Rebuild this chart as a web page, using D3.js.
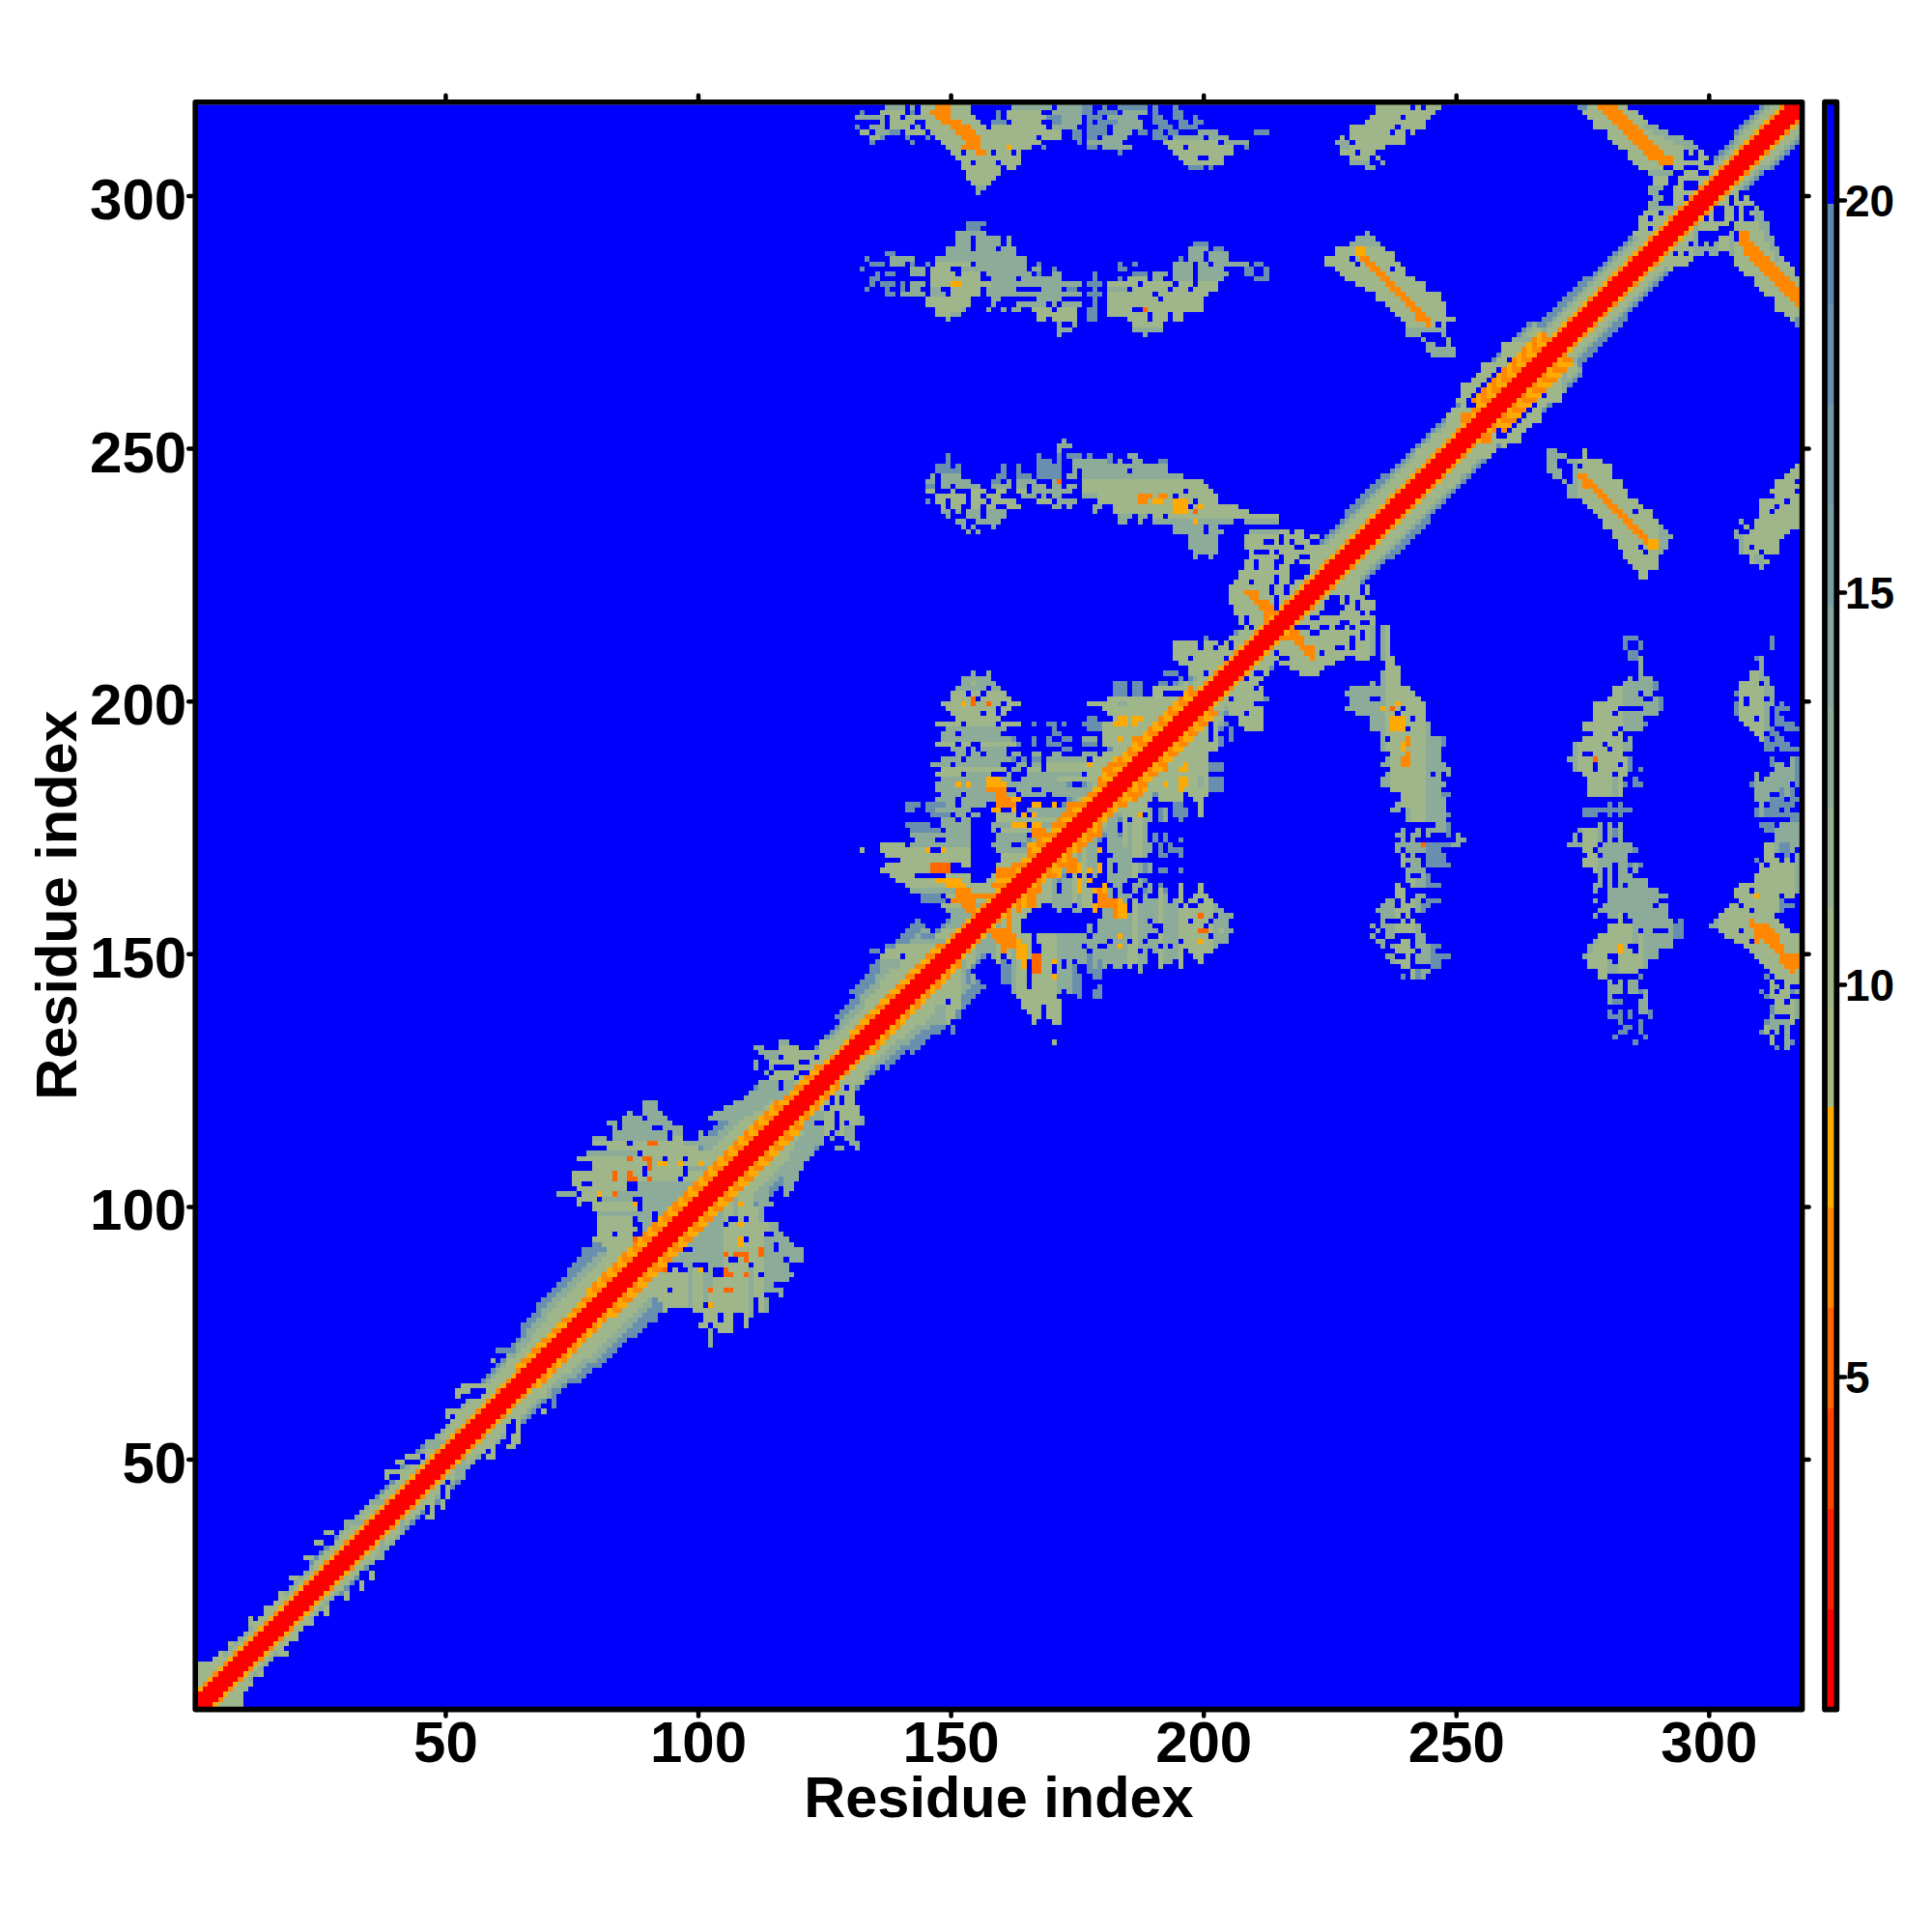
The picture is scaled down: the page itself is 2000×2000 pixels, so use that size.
<!DOCTYPE html>
<html><head><meta charset="utf-8">
<script src="https://cdnjs.cloudflare.com/ajax/libs/d3/7.8.5/d3.min.js"></script>
<style>html,body{margin:0;background:#fff}text{font-family:"Liberation Sans",Arial,sans-serif;font-weight:bold;fill:#000}</style>
</head><body><svg id="c" width="2000" height="2000"></svg>
<script>
const axisTicks=[50,100,150,200,250,300];
const barTicks=[5,10,15,20];
const palette=["#ff0000","#ff2200","#ff4400","#ff6600","#ff8800","#ffaa00","#a5bb82","#9eb68a","#96b092","#8dab99","#84a5a0","#7b9ea6","#7297ab","#698fae","#5f88b0","#0000ff"];
const levelValues={s:17.5,m:13.5,g:10.5,l:9.2,y:7.8,o:6.5,t:5.2,u:4,".":21};
// diagonal band, by residue at the middle of a pair
const bandStart=[1,8,14,20,26,32,38,44,50,54,60,66,70,74,80,92,100,118,126,132,136,140,150,165,185,200,210,225,232,240,250,256,270,280,296,308];
const orangeDepth=[3,3,3,3,3,3,3,3,3,3,3,4,4,4,5,5,5,4,3,4,4,4,3,4,5,3,3,3,3,3,3,6,3,3,3,3];
const sageDepth=[5,4,5,4,5,5,5,5,5,6,6,6,7,8,8,8,8,7,6,6,7,8,5,5,7,5,4,6,6,6,6,8,5,5,4,5];
const midDepth=[6,5,5,5,5,6,5,6,6,7,7,8,9,10,10,10,10,8,7,8,9,10,6,6,8,6,5,7,7,7,7,9,6,6,5,6];
const steelDepth=[6,5,5,5,6,6,6,7,6,7,8,9,11,12,13,12,12,10,8,10,12,13,7,7,9,7,6,8,9,8,8,10,8,7,6,7];
// off-diagonal contacts: residue offset from i0, row residue, then runs
const patchStart=[0,69,69,126,130,130,142,142,222,222,222,222];
const patchRows=[
[ // thin band fringe
"71: 60-63s","69: 59g 62g","64: 53-60g","63: 52-54g 55-57. 58-60g","62: 52g 54-56. 58g","59: 50-54g","58: 50g 51. 52-54g","53: 46-49m","52: 46-50m","50: 42-46g 45.","49: 40-41g 42-44. 45-47g","47: 38-41g","46: 38g 39-40. 41g","41: 35-38m","37: 30-34m","35: 26-27g","33: 24-25g 26-27.","30: 22-23g","26: 19-20g","23: 17g","20: 14g","18: 11g","17: 11g","13: 7g","11: 5g","10: 4g","9: 1-3g","8: 1-4g","7: 1-4g","6: 1-4g","5: 1-3g 3t"
],[ // helical bundle near 75-118
"120: 20-22m","119: 20-22m","118: 17m 20-23m","117: 16-24m 20.","116: 13-14m 16-25m","115: 14m 16-21m 24-27m","114: 14-24m 26-27m 31m","113: 10-12m 14-24m 26-27g 31-33m","112: 10-27g 17. 21-22t 28-33m","111: 13-30g","110: 9-18m 19. 20-33g","109: 7-33g 17t 20-21t 24. 28.","108: 10-33g 21t 23-24y 27y 31y","107: 10-27g 21t 20. 28. 29-33m","106: 6-33g 14t 17t 20. 28.","105: 6-33g 14t 17-18t 21t 27. 31-32t","104: 6-7g 10-16g 19-33m","103: 7-16g 17-18. 19-33m","102: 3-6m 7. 8-10g 11y 12-13g 14t 15-33m","101: 7-10g 11. 12-17m 19. 20-32m","100: 7g 10-17g 18y 19. 20-31m","99: 10-18g 19. 20-30m 27t","98: 11-21m 22. 23-29m","97: 11-17g 18. 19-21m 22. 23. 24-28m","96: 11-17g 18-19. 20-27m","95: 11-18g 19. 20-26m 24y","94: 11-13g 14. 15-17g 18-19. 20-25m","93: 10-17g 18-20t 21. 22-24g","92: 12-23g","91: 8-12s 13-22g"
],[ // ring near 118-132
"132: 47-48m 55-56g 59-61g","131: 42-43m 47-50g 55-60g","130: 43-46m 47-53g 54-58g","129: 44-46m 48-53g 54. 55-57g","128: 42m 45-53g 51-52. 54-56g","127: 42m 45m 46-47. 48-49. 50-55g","126: 44m 46-50g 51-52. 53-56g","125: 45-49g 50. 53-55g 52.","124: 43-49m 47. 52-54g","123: 43-46m 48-53m 47.","122: 41-53m","121: 40-52m","120: 38-51m 45-47g","119: 36-50m 44-47g","118: 34-47m 42-46g","117: 33-45m 40-45g"
],[ // central bundle 130-205
"205: 28m 31m","204: 26-31m","203: 26-32m 28g 56-58s 60-61s 65-66s","202: 25-33m 31. 56-58s 60-61s 64-71g","201: 24-34g 27. 30. 56-58s 60-61s 64-72g 66-69.","200: 24-35g 29. 28t 55-73g","199: 22-37g 26y 28t 31t 34. 51-73g 57-58m","198: 23-35g 33. 54-72g","197: 24-34g 30. 33. 55-70g 66-67.","196: 25-33g 51-52s 56-69g 57-58y 60-61y 65-69o","195: 21-37g 26. 33. 40s 43-44s 46s 50-53s 54-68g 56-58y 60y 66-68o","194: 23-34m 44s 51-53s 54-67g 64-67o","193: 22-33m 25. 44-45s 54-66g 62-65o","192: 22-35m 36s 40s 43s 46-47s 50-52m 54-65g 57y 60-64o","191: 21-36g 25. 28-29. 37s 40s 43-45s 50-52s 54-64g 60-64o","190: 24-26m 28m 30-34m 46-47s 56-63g","189: 25-26m 28-29m 31-34m 36-37m 40-41m 44-45m 50-52m 54-62g","188: 22-35m 26. 36s 38s 40-41s 43-50m 52-61g 56-57y","187: 20-33m 24. 37-38m 40-41m 43-60g 51y 55-60o","186: 22-34g 36-37m 39-59g 42. 54-59o","185: 21-25g 27-31m 34. 35m 39-49m 50. 51-58g 54-58y","184: 22-44m 31-33y 36. 37. 45-57g 53-57o","183: 21-46m 25y 27y 31-34y 47s 52-56g 53-56o","182: 21-51m 31-34o 35-36. 40-41. 53-55o","181: 22-50m 33-34o 26. 37. 43. 51-54g","180: 21-24m 26-32m 33-35o 36-37y 42. 51-53o","179: 15-17s 19-22s 23-30m 25. 33-36o 40-41y 44y 47-51o","178: 15-16s 19-20s 21-27m 32-33y 36y 37. 39-46m 47-50o","177: 20-23s 24. 25-26m 28-29m 33-36g 38y 40y 41-44m 46-49o","176: 22-24m 26-27m 33-44g 45-48o","175: 15-19s 22-27m 32-36m 36-38y 40-41y 42m 44-47o","174: 16-21s 23-27m 32m 34-40g 40-42o 44-46y","173: 16-27m 33-38m 40-43o 44-45o","172: 17-20m 23-27m 33-38m 41-44o","171: 10-14g 16-27m 32-35m 39-43y 42-44o","170: 6g 10-18g 19y 22y 23-27g 33-38m 39-43o","169: 11-12g 13-27g 34-39g 39-42o","168: 14-27g 34-38g 38-41o","167: 11-19g 20-23t 26-27g 33-37g 36-40o","166: 10-19g 20-23t 33-39o","165: 12-16g 17. 23-27g 32-35g 33-38o","164: 13-21g 21-25y 26-27g 31-35g 33-37y","163: 15-22g 23-26y 27-36g 32-33o","162: 16-24m 25-27o 28-35g","161: 18-21s 23-27g 25-28o 29-34o","160: 18-22s 24-28o 30-33g","159: 22-25g 26-28o 29-32m","158: 23-26m 27-29o 30-31g","157: 24-27m 28-30o","156: 25-27m 28-29o","155: 24-27m","154: 22-26g","153: 18-20s 21-26g","152: 16-25m","151: 11-12s 13-24g","150: 8-9s 11-22g","149: 10-21g 14.","148: 10-12m 15-20g","147: 10-13m 15-19g"
],[ // top strip
"317: 7-10m 12m 14-23g 17-19o 32-36m 37-39m 41-45m 46-47s 50s 53s 54-58s 60s 64s","316: 2s 6-10g 12s 14-23g 16-19o 29s 31-37g 40-45m 46-47s 49-52s 54-58m 60s 64-65s","315: 1-6m 8-9g 11-14g 15-24g 17-19o 29s 31-38g 39-41s 42-45m 47-49s 51-56m 60-61s 64-65s 68s","314: 6m 8-12g 15-25g 18-21o 28-30s 32-37g 40-41s 42-45m 47s 49-52s 53-57m 60-62s 65-66s 68-69s","313: 1s 4-6m 8-11g 13m 15-26g 20-23o 28-38g 40-44m 47-50s 52-57m 61-63s 65-68s","312: 2-3g 5-7m 8-9s 11-14g 16-29g 21-24o 30-41g 44-45s 47-50s 52-55m 57-58s 60-61s 63-64s 69-72m 80-82s","311: 4-5g 6s 11s 15s 17-29g 22-25o 30-41g 37. 44-45s 47-48s 50-54m 60-62s 64-69m 71-74m","310: 4s 12s 18-29g 23-25o 30-37g 45s 47-53m 62-72g 74-78m","309: 19-35g 22-25o 31y 38s 47-48s 50-55m 63-65g 67-75g 78s","308: 20-33g 22. 25-26o 28. 32. 53s 64-70g 71-75g","307: 21-33g 65-73g 69-70.","306: 22-33g 24. 29. 66-73g","305: 22-32g 30. 67-69s 71s","304: 23-29g","303: 23-28g","302: 24-27g","301: 25-26m","300: 25m"
],[ // second strip
"294: 23-24s 25-26s","293: 23-25s","292: 21-26m","291: 21-23m 25-29m 31m","290: 21-23m 25-29m 31m 68-70s","289: 19-23m 25-28m 30-32m 67-70m 72-73s","288: 7-8s 19-24m 25-32m 67-74m 70.","287: 3s 8-12m 17-34m 65s 67-74m 70.","286: 4-6s 8-10m 11. 12s 15s 17-23g 25-34m 37s 53s 56s 64-67m 69-70m 72-78m 80-81s","285: 2s 12-14m 16-19g 22-32m 33-34m 36-37m 40s 53-54s 64-67m 69-73m 78-79s 82s","284: 5s 7-8s 12-14m 16-20g 22-25g 27-35m 37s 40-41m 48s 56-58s 60-62m 64-67m 69-74m 78-79s 82s","283: 4-5s 16-25g 28-32m 34-41m 48s 53s 55-58g 60-61m 64-67m 69-73m 80-82s","282: 4s 6-8s 10s 12-14m 16-27g 20-21y 28-40m 41-45m 47-49s 51-59g 60-72g 57. 64. 68.","281: 3s 7s 10s 12-13m 16-17m 20-25g 27-32m 38-41m 43-44s 48s 51-54m 56-72g 63. 67.","280: 7-8s 10-14m 16-18m 20-25g 27-29m 30-40m 41-45m 47-49s 51-70g 60.","279: 15-23g 28-29m 37-41m 48s 51-60g 62-69g","278: 15-23g 28m 33-38m 40m 42-45m 48s 51-69g","277: 17-21g 22m 27m 30m 32-33m 36-39g 41-44g 47-48s 51-55g 57. 58t 59-69g","276: 17-19g 20-21m 37-44g 47-48s 51-55g 55-58g 60-62g 64-65g","275: 19m 37-38g 40-44g 47-48s 55-58g 60-62g 64-65g","274: 41m 44m 56-61g","273: 41-43m 56-61m","272: 41m 58m"
],[ // middle strip
"251: 30m","250: 29-31m","249: 29m","248: 7s 25s 29s 31-33s 35s 39s 43-44m","247: 7s 25-27s 29s 32-38m 39s 41m 44-45m 49-50s","246: 5-7s 9s 18s 21s 25-29s 32-43m 44-50m","245: 5-9s 18s 21s 25-29s 32-42m 44-50m 33.","244: 4-9m 17-18s 21-23s 25-29s 31-32m 34-52m 53m 5.","243: 3-11m 5. 16-17s 19-29m 20. 25-27. 29t 34-57g","242: 3-4s 6-7m 9-13m 16-19m 21-22m 24-26m 28-29m 31-32m 34-38g 44-46o 39-58g","241: 3-4g 8g 12-14g 17-18g 21-22g 24-28m 29-31m 34-38g 44-46o 39-59g 54.","240: 5-10g 12-13g 15-17g 22-24m 26m 28-29m 34-36m 37-41g 42-60g 45-47o 49-50o 52.","239: 3s 5-6g 8-10g 12-14g 16-20g 25-27g 29-32m 37-41g 42-60g 45-46o 48-49y 52-54y 56.","238: 6g 8-9g 12-13g 15-16g 19-21g 28-29m 31m 36-37m 40-64g 52-54y 55. 57y","237: 6-7m 9m 11-13m 15-18m 36m 40-66g 52-54y 56t","236: 7m 11-13m 15-18m 41-43m 45-46m 48-72g 50.","235: 9-10m 13-17m 41-42m 45m 48-63m 56y 66-72m","234: 10m 12m 16m 52-55m 56-57m 59-60m","233: 11m 13m 52-55m 56-57m 59-61m","232: 55-60m","231: 55-60m","230: 55-60m","229: 56-60m","228: 56m 59m"
],[ // bundle near 205-235
"233: 67-72m 73-74g 76-77g","232: 66-72g 73. 74-80g 78.","231: 66-78g 70-71. 73. 75.","230: 66-81g 76-77.","229: 67-82g 68-70. 72. ","228: 67-83g 73. 77-78. ","227: 66-84g 68. 72-73. 76.","226: 66-83g 68. 72. 75-78.","225: 65-82g 75-78. 80.","224: 65-81g 72. 75-77. 79.","223: 64-79g 67. 72. 75.","222: 63-78g 71. 74. 77.","221: 63-77g 66-68o 71. 74.","220: 63-76g 67-68o 72.","219: 63-76g 68-70o 72.","218: 64-75g 69-71o 72.","217: 64-74g 70-71o","216: 65-73g 66. 70-71o","215: 65-72g 66. 70-71o","214: 66-71g 67.","213: 65-70g","212: 58s 63-69g","211: 52-56g 58-60g 62-68g 63.","210: 52-56g 58-67g 60. 63.","209: 52-66g","208: 52-65g 55. 62.","207: 53-64g","206: 54-63g 54.","205: 50-52s 55-62g 58."
],[ // bundle end near 228-250
"317: 12-24g 19. 21.","316: 12-23g","315: 11-22g 17.","314: 10-21g","313: 7-21g 16.","312: 7-19g 15. 18.","311: 5-17g 6.","310: 4-6m 8-17g","309: 5-6m 7-13g","308: 5-11g 8.","307: 7-12g 11.","306: 7-10m 13m","305: 10-11m"
],[ // antiparallel pair top
"317: 52-61g 52-53s 56-59o","316: 53-63g 57-60o","315: 54-64g 58-61o","314: 55-65g 59-62o","313: 55-67g 60-63o 65-67m","312: 58-69g 61-64o 67-69m","311: 58-72g 62-65o 69-72m","310: 59-74g 63-66o 71-74m","309: 60-75g 64-67o 73-75m","308: 62-76g 65-68o 73. 75.","307: 62-72g 66-70o 73. 76-77g","306: 63-75g 68-70o 76g 78. 80-81g","305: 64-73g 69-70. 73. 76-78g","304: 66-71m 71-72. 73-78g 76-77.","303: 67-69g 70-71. 72-80g","302: 67-69g 70-71. 72-80g 73-75.","301: 66-68m 69-70. 71-74g 73-75. 76-78g","300: 66-67m 68. 71-74g 75. 78-79g","299: 67-68m 69-70. 71-76g 73-75.","298: 66-67m 68-70. 71-76g","297: 66-67m 68-71m 72-76g","296: 65-75g 68.","295: 64-74g 66.","294: 64-73g 69y","293: 64-72g 66. 68-69o","292: 63-71g"
],[ // antiparallel pair left
"292: 10m","291: 8-11m","290: 7-12m","289: 4-13g 8-9y","288: 4-15g 8-9y","287: 2-15g 7. 9-10o","286: 2-16g 8. 10-11o","285: 4-17g 15. 11-12o","284: 5-17g 12-13o","283: 6-19g 13-14o","282: 8-21g 14-15o","281: 10-21g 15-16o","280: 12-24g 16-17o","279: 12-24g 17-18o","278: 14-25g 18-19o","277: 15-25g 19-20o","276: 16-26g 20-21o 26.","275: 17-27g 20-22o","274: 18-25g 22o 24.","273: 18-25m","272: 18-20m 22-25m 21-24.","271: 21m 26m","270: 22-23m 26m","269: 22-27m","268: 23-27m"
],[ // helix bubble
"272: 41m","271: 39-45m","270: 37-46g","269: 37-47g","268: 37-48g 40-42o","267: 36-38g 40-49o 38-39.","266: 33-37g 38-39. 39-45g 40-44o","265: 33-35g 36-38. 39-45o","264: 32-35g 35-37. 38-44o","263: 31-33g 34-36. 36-43o","262: 29-32g 33-35. 36-42o","261: 29-31g 32-34. 35-41o","260: 29-30g 31-33. 34-40o","259: 28-29g 30-32. 33-39o","258: 29g 30-31. 32-38o","257: 27-30g 31-37o","256: 26-28g 29-36o","255: 26-28g 29-35o","254: 27-29g 30-34o","253: 26-29g 30-33o","252: 23-24g 26-28g 30-32o","251: 24-25g 27-30g","250: 21g 23-29g","249: 20-21g 24-27g"
]];
const x=d3.scaleLinear().domain([1,318]).range([204.6,1863]);
const y=d3.scaleLinear().domain([1,318]).range([1767,108.3]);
const barY=d3.scaleLinear().domain([5,20]).range([1425,207]);
const color=d3.scaleQuantize().domain([0.75,21.23]).range(palette);

const N=317, M=new Map();
const key=(i,j)=>i*1000+j;
const binOf=d3.bisector(d=>d).right;
for(let j=1;j<=N;j++)for(let i=Math.max(1,j-14);i<j;i++){
  const d=j-i,b=binOf(bandStart,(i+j)/2)-1;
  let v=null;
  if(d<=steelDepth[b])v=levelValues.s;
  if(d<=midDepth[b])v=levelValues.m;
  if(d<=sageDepth[b])v=levelValues.g;
  if(v!==null)M.set(key(i,j),v);
}
patchRows.forEach((rows,p)=>{
  const i0=patchStart[p];
  rows.forEach(line=>{
    const [jt,rest]=line.split(":");const j=+jt;
    rest.trim().split(/\s+/).forEach(tok=>{
      const m=tok.match(/^(\d+)(?:-(\d+))?(.)$/);if(!m)return;
      const a=+m[1],b=m[2]?+m[2]:a,val=levelValues[m[3]];
      for(let k=a;k<=b;k++){const i=i0+k;if(i>=1&&i<j)M.set(key(i,j),val);}
    });
  });
});
for(let j=1;j<=N;j++)for(let i=Math.max(1,j-14);i<=j;i++){
  const d=j-i,b=binOf(bandStart,(i+j)/2)-1;
  if(d<=2)M.set(key(i,j),1.5);
  else if(d<=orangeDepth[b]&&(d===3||orangeDepth[b]>3))M.set(key(i,j),(d===3?(i%2?levelValues.y:levelValues.o):(i%2?levelValues.o:levelValues.y)));
}
const cells=[];
M.forEach((v,k)=>{
  const i=Math.floor(k/1000),j=k%1000;
  if(v>=20||i<1||j>N)return;
  cells.push({i,j,v});
  if(i!==j)cells.push({i:j,j:i,v});
});
const svg=d3.select("#c");
const g=svg.append("g");
g.append("rect").attr("x",x(1)).attr("y",y(318)).attr("width",x(318)-x(1)).attr("height",y(1)-y(318)).attr("fill",palette[15]);
g.selectAll(".cell").data(cells).join("rect").attr("class","cell")
 .attr("x",d=>x(d.i)).attr("y",d=>y(d.j+1)).attr("width",d=>x(d.i+1)-x(d.i)).attr("height",d=>y(d.j)-y(d.j+1))
 .attr("fill",d=>color(d.v)).attr("shape-rendering","crispEdges");

// axes
function styleAxis(sel){sel.select(".domain").remove();sel.selectAll("line").attr("stroke","#000").attr("stroke-width",4.5).attr("stroke-linecap","round");}
const fmt=d3.format("d");
const fx=x(1)-2.4,fy=y(318)-2.6,fw=x(318)-x(1)+5,fh=y(1)-y(318)+5.2;
const ax=svg.append("g").attr("transform",`translate(0,${fy+fh})`).call(d3.axisBottom(x).tickValues(axisTicks).tickSize(7).tickPadding(14).tickFormat(fmt)).call(styleAxis);
ax.selectAll("text").attr("font-size",60).attr("dy",0).attr("y",54).attr("fill","#000");
const ay=svg.append("g").attr("transform",`translate(${fx},0)`).call(d3.axisLeft(y).tickValues(axisTicks).tickSize(7).tickFormat(fmt)).call(styleAxis);
ay.selectAll("text").attr("font-size",60).attr("x",-9).attr("dy",0).attr("y",24).attr("fill","#000");
svg.append("g").attr("transform",`translate(0,${fy})`).call(d3.axisTop(x).tickValues(axisTicks).tickSize(7).tickFormat("")).call(styleAxis);
svg.append("g").attr("transform",`translate(${fx+fw},0)`).call(d3.axisRight(y).tickValues(axisTicks).tickSize(7).tickFormat("")).call(styleAxis);
svg.append("rect").attr("x",fx).attr("y",fy).attr("width",fw).attr("height",fh).attr("fill","none").attr("stroke","#000").attr("stroke-width",5.6).attr("stroke-linejoin","round");
svg.append("text").attr("x",1034).attr("y",1881).attr("text-anchor","middle").attr("font-size",59.5).text("Residue index");
svg.append("text").attr("transform","translate(79,937) rotate(-90)").attr("text-anchor","middle").attr("font-size",59.5).text("Residue index");

// colour bar
const step=(21.23-0.75)/palette.length;
svg.append("g").selectAll("rect").data(palette).join("rect")
 .attr("x",1892).attr("width",6.5)
 .attr("y",(c,k)=>barY(0.75+step*(k+1))).attr("height",step*(barY(0)-barY(1)))
 .attr("fill",c=>c).attr("shape-rendering","crispEdges");
const bx=svg.append("g").attr("transform","translate(1904,0)").call(d3.axisRight(barY).tickValues(barTicks).tickSize(6).tickFormat(fmt)).call(styleAxis);
bx.selectAll("text").attr("font-size",46).attr("x",6).attr("dy",0).attr("y",16).attr("fill","#000");
svg.append("rect").attr("x",1889).attr("y",fy).attr("width",12.3).attr("height",fh).attr("fill","none").attr("stroke","#000").attr("stroke-width",5.8).attr("stroke-linejoin","round");
</script></body></html>
